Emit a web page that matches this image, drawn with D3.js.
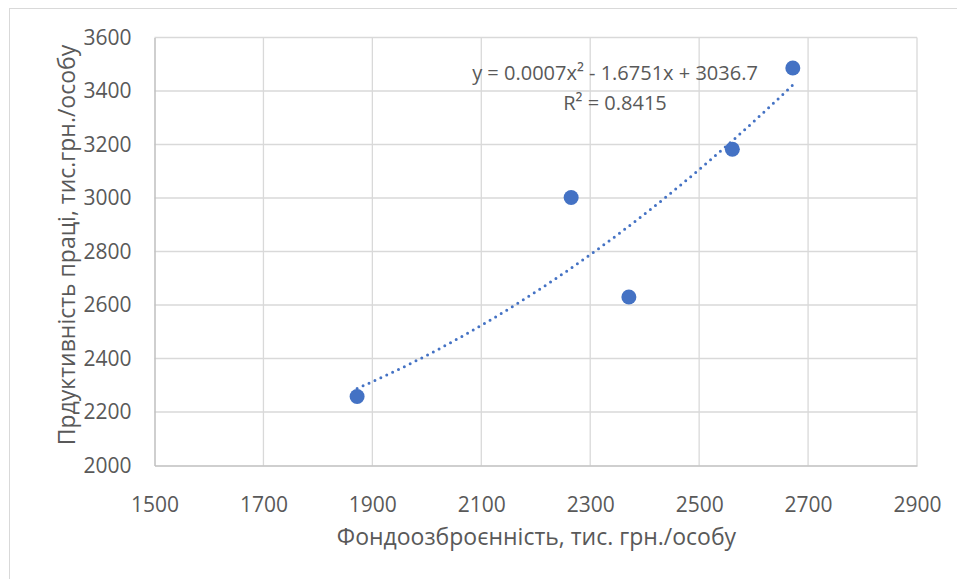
<!DOCTYPE html>
<html>
<head>
<meta charset="utf-8">
<script src="https://cdn.jsdelivr.net/npm/d3@7"></script>
<style>
  body { margin: 0; background: #fff; }
  text { font-family: "Open Sans", sans-serif; fill: #595959; }
</style>
</head>
<body>
<svg id="chart"></svg>
<script>
'use strict';

// data
var xValues = [1872, 2265, 2371, 2561, 2672];
var yValues = [2258, 3002, 2630, 3182, 3486];
var xTicks = [1500, 1700, 1900, 2100, 2300, 2500, 2700, 2900];
var yTicks = [2000, 2200, 2400, 2600, 2800, 3000, 3200, 3400, 3600];
var equationLines = ['y = 0.0007x\u00b2 - 1.6751x + 3036.7', 'R\u00b2 = 0.8415'];
var xTitle = 'Фондоозброєнність, тис. грн./особу';
var yTitle = 'Прдуктивність праці, тис.грн./особу';

var w = 957,
    h = 579;
var plotLeft = 154.5, plotRight = 917, plotTop = 37.5, plotBottom = 465.5;
var blue = '#4472C4';

var svg = d3.select('#chart')
    .attr('width', w)
    .attr('height', h);

/** chart frame */
svg.append('rect')
    .attr('x', 9.5).attr('y', 8.5)
    .attr('width', 1000).attr('height', 1000)
    .attr('fill', 'none')
    .attr('stroke', '#d9d9d9');

var x = d3.scaleLinear().domain([1500, 2900]).range([plotLeft, plotRight]);
var y = d3.scaleLinear().domain([2000, 3600]).range([plotBottom, plotTop]);

/** grid lines */
svg.append('g').selectAll('line')
    .data(xTicks.slice(1))
    .enter()
    .append('line')
    .attr('x1', function(d) { return x(d); })
    .attr('x2', function(d) { return x(d); })
    .attr('y1', plotTop).attr('y2', plotBottom)
    .attr('stroke', '#d9d9d9').attr('stroke-width', 1.3);

svg.append('g').selectAll('line')
    .data(yTicks.slice(1))
    .enter()
    .append('line')
    .attr('y1', function(d) { return y(d); })
    .attr('y2', function(d) { return y(d); })
    .attr('x1', plotLeft).attr('x2', plotRight)
    .attr('stroke', '#d9d9d9').attr('stroke-width', 1.3);

/** axes */
var xAxis = svg.append('g')
    .attr('transform', 'translate(0,' + plotBottom + ')')
    .call(d3.axisBottom(x).tickValues(xTicks).tickFormat(d3.format('d')).tickSize(0).tickPadding(32));
var yAxis = svg.append('g')
    .attr('transform', 'translate(' + plotLeft + ',0)')
    .call(d3.axisLeft(y).tickValues(yTicks).tickFormat(d3.format('d')).tickSize(0).tickPadding(23));

[xAxis, yAxis].forEach(function(a) {
    a.select('.domain').attr('stroke', '#bfbfbf').attr('stroke-width', 1.5);
    a.selectAll('text')
        .attr('font-family', '"Open Sans", sans-serif')
        .attr('font-size', 21)
        .attr('fill', '#595959');
});

/** axis titles */
svg.append('text')
    .attr('x', 536.5)
    .attr('y', 545)
    .attr('text-anchor', 'middle')
    .attr('font-size', 23)
    .text(xTitle);

svg.append('text')
    .attr('transform', 'translate(75,245) rotate(-90)')
    .attr('text-anchor', 'middle')
    .attr('font-size', 23)
    .text(yTitle);

/** quadratic trend line, least squares from the points */
function fitQuadratic(xs, ys) {
    var S = [0, 0, 0, 0, 0], T = [0, 0, 0];
    xs.forEach(function(xv, i) {
        for (var k = 0; k < 5; k++) S[k] += Math.pow(xv, k);
        for (var j = 0; j < 3; j++) T[j] += ys[i] * Math.pow(xv, j);
    });
    var A = [[S[0], S[1], S[2], T[0]], [S[1], S[2], S[3], T[1]], [S[2], S[3], S[4], T[2]]];
    for (var c = 0; c < 3; c++) {
        for (var r = c + 1; r < 3; r++) {
            var f = A[r][c] / A[c][c];
            for (var k2 = c; k2 < 4; k2++) A[r][k2] -= f * A[c][k2];
        }
    }
    var coef = [0, 0, 0];
    for (var r2 = 2; r2 >= 0; r2--) {
        var s = A[r2][3];
        for (var k3 = r2 + 1; k3 < 3; k3++) s -= A[r2][k3] * coef[k3];
        coef[r2] = s / A[r2][r2];
    }
    return coef;
}

var coef = fitQuadratic(xValues.map(function(v) { return v - 2000; }), yValues);
var xmin = d3.min(xValues), xmax = d3.max(xValues);
var trend = d3.range(0, 101).map(function(i) {
    var xv = xmin + (xmax - xmin) * i / 100, t = xv - 2000;
    return [xv, coef[0] + coef[1] * t + coef[2] * t * t];
});

svg.append('path')
    .datum(trend)
    .attr('d', d3.line()
        .x(function(d) { return x(d[0]); })
        .y(function(d) { return y(d[1]); }))
    .attr('fill', 'none')
    .attr('stroke', blue)
    .attr('stroke-width', 3)
    .attr('stroke-linecap', 'round')
    .attr('stroke-dasharray', '0 6.5');

/** points */
svg.append('g').selectAll('circle')
    .data(xValues)
    .enter()
    .append('circle')
    .attr('cx', function(d) { return x(d); })
    .attr('cy', function(d, i) { return y(yValues[i]); })
    .attr('r', 7.5)
    .attr('fill', blue);

/** equation label */
svg.append('g').selectAll('text')
    .data(equationLines)
    .enter()
    .append('text')
    .attr('x', 615)
    .attr('y', function(d, i) { return 80 + i * 30; })
    .attr('text-anchor', 'middle')
    .attr('font-size', 20)
    .text(function(d) { return d; });
</script>
</body>
</html>
